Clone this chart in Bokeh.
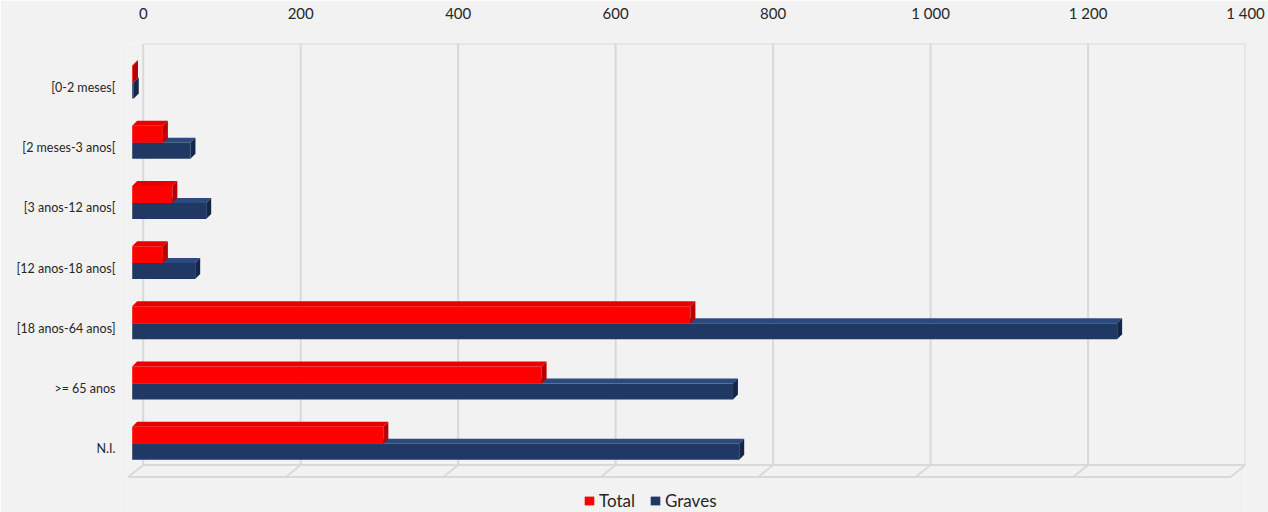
from bokeh.plotting import figure
from bokeh.models import (Range1d, FixedTicker, Legend, LegendItem,
                          ColumnDataSource)
from bokeh.embed import file_html
from bokeh.resources import INLINE

# ---------------- data ----------------
categories = ["[0-2 meses[", "[2 meses-3 anos[", "[3 anos-12 anos[",
              "[12 anos-18 anos[", "[18 anos-64 anos]", ">= 65 anos", "N.I."]
total = [1, 39, 51, 39, 709, 520, 319]
graves = [2, 74, 94, 80, 1251, 763, 771]
series_names = ["Total", "Graves"]
x_ticks = [0, 200, 400, 600, 800, 1000, 1200, 1400]
x_tick_labels = ["0", "200", "400", "600", "800", "1 000", "1 200", "1 400"]

# ---------------- style ----------------
BG = "#f2f2f2"
GRID = "#d9d9d9"
TXT = "#262626"
FONT = "Lato"
RED, RED_TOP, RED_SIDE = "#ff0000", "#e80000", "#b80000"
NAVY, NAVY_TOP, NAVY_SIDE = "#1f3864", "#2d4a7c", "#14264a"
X_START, X_END = -20, 1400
DEPTH_X = 14          # front plane shift (data units)
BAR_DX, BAR_DY = 6.3, 0.083   # bar 3D depth
WALL_TOP, FLOOR_BACK, FLOOR_FRONT, FLOOR_DX = -0.731, 6.27, 6.47, 19
Y_TOP, Y_BOTTOM = -0.731, 7.06
RED_T, RED_B = -0.365, -0.083
NAVY_T, NAVY_B = -0.083, 0.183

p = figure(width=1268, height=512,
           x_range=Range1d(X_START, X_END), y_range=Range1d(Y_BOTTOM, Y_TOP),
           x_axis_location="above", output_backend="svg", toolbar_location=None,
           background_fill_color=BG, border_fill_color=BG,
           min_border_left=127, min_border_right=23, min_border_top=43,
           min_border_bottom=0, outline_line_color=None)
p.extra_x_ranges = {"front": Range1d(X_START + DEPTH_X, X_END + DEPTH_X)}
p.xgrid.visible = False
p.ygrid.visible = False

# back wall grid + border
n = len(categories)
p.segment(x0=x_ticks, x1=x_ticks, y0=[WALL_TOP] * len(x_ticks),
          y1=[FLOOR_BACK] * len(x_ticks), line_color=GRID, line_width=2)
p.segment(x0=[x_ticks[0]], x1=[x_ticks[-1]], y0=[WALL_TOP], y1=[WALL_TOP],
          line_color=GRID, line_width=2)
# floor
p.segment(x0=[x_ticks[0]], x1=[x_ticks[-1]], y0=[FLOOR_BACK], y1=[FLOOR_BACK],
          line_color=GRID, line_width=2)
p.segment(x0=[x_ticks[0] - FLOOR_DX], x1=[x_ticks[-1] - FLOOR_DX],
          y0=[FLOOR_FRONT], y1=[FLOOR_FRONT], line_color=GRID, line_width=2)
p.segment(x0=x_ticks, x1=[t - FLOOR_DX for t in x_ticks],
          y0=[FLOOR_BACK] * len(x_ticks), y1=[FLOOR_FRONT] * len(x_ticks),
          line_color=GRID, line_width=2)


def bars3d(values, t_off, b_off, c_front, c_top, c_side):
    idx = list(range(len(values)))
    top_xs, top_ys, side_xs, side_ys = [], [], [], []
    for i, v in zip(idx, values):
        t, b = i + t_off, i + b_off
        top_xs.append([0, BAR_DX, v + BAR_DX, v])
        top_ys.append([t, t - BAR_DY, t - BAR_DY, t])
        side_xs.append([v, v + BAR_DX, v + BAR_DX, v])
        side_ys.append([t, t - BAR_DY, b - BAR_DY, b])
    src = ColumnDataSource(dict(y=[i + (t_off + b_off) / 2 for i in idx],
                                right=values))
    r = p.hbar(y="y", right="right", left=0, height=b_off - t_off, source=src,
               fill_color=c_front, line_color=None, x_range_name="front")
    p.patches(top_xs, top_ys, fill_color=c_top, line_color=None,
              x_range_name="front")
    p.patches(side_xs, side_ys, fill_color=c_side, line_color=None,
              x_range_name="front")
    return r


r_graves = bars3d(graves, NAVY_T, NAVY_B, NAVY, NAVY_TOP, NAVY_SIDE)
r_total = bars3d(total, RED_T, RED_B, RED, RED_TOP, RED_SIDE)

# axes
xa = p.xaxis[0]
xa.ticker = FixedTicker(ticks=x_ticks)
xa.major_label_overrides = {t: l for t, l in zip(x_ticks, x_tick_labels)}
xa.axis_line_color = None
xa.major_tick_line_color = None
xa.minor_tick_line_color = None
xa.major_label_standoff = 16
xa.major_label_text_font = FONT
xa.major_label_text_font_size = "15px"
xa.major_label_text_color = TXT

ya = p.yaxis[0]
ya.ticker = FixedTicker(ticks=list(range(n)))
ya.major_label_overrides = {i: c for i, c in enumerate(categories)}
ya.axis_line_color = None
ya.major_tick_line_color = None
ya.minor_tick_line_color = None
ya.major_label_standoff = 6
ya.major_label_text_font = FONT
ya.major_label_text_font_size = "12.5px"
ya.major_label_text_color = TXT

legend = Legend(items=[LegendItem(label=series_names[0], renderers=[r_total]),
                       LegendItem(label=series_names[1], renderers=[r_graves])],
                orientation="horizontal", location=(456, 1),
                background_fill_alpha=0, border_line_color=None,
                padding=0, margin=0, spacing=14,
                glyph_width=12, glyph_height=11, label_standoff=4,
                label_text_font=FONT, label_text_font_size="17px",
                label_text_color=TXT)
p.add_layout(legend)

open("out.html", "w").write(file_html(p, INLINE))
